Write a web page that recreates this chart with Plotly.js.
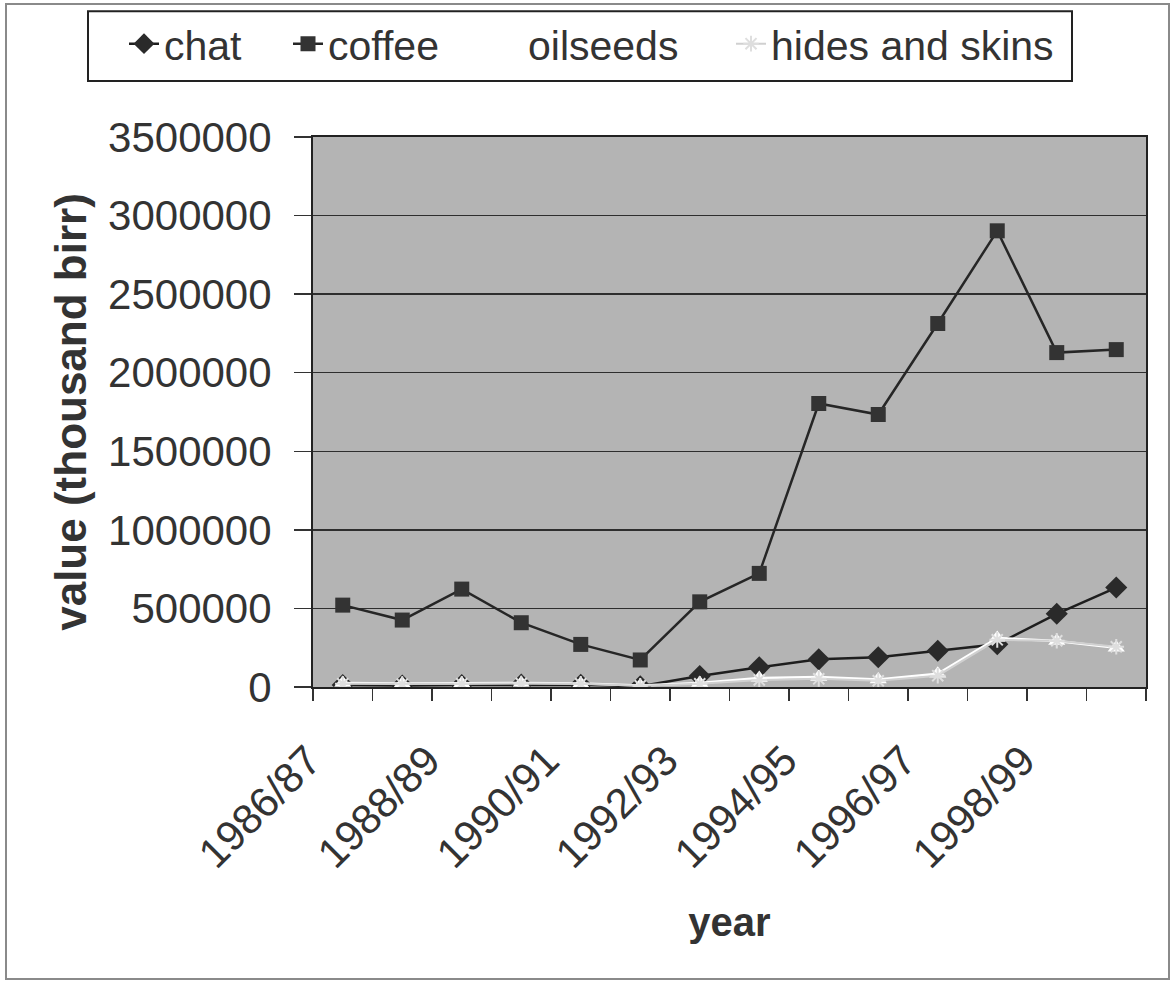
<!DOCTYPE html>
<html>
<head>
<meta charset="utf-8">
<script src="https://cdn.plot.ly/plotly-3.0.1.min.js"></script>
<style>
  html, body { margin: 0; padding: 0; background: #ffffff; }
  #wrap { position: relative; width: 1173px; height: 984px; }
  #chart { width: 1173px; height: 984px; }
  #frame { position: absolute; left: 5px; top: 3px; width: 1161px; height: 973px;
           border: 2px solid #8a8a8a; pointer-events: none; }
</style>
</head>
<body>
<div id="wrap">
  <div id="chart"></div>
  <div id="frame"></div>
</div>
<script>
// Categories (fiscal years)
const years = ["1986/87","1987/88","1988/89","1989/90","1990/91","1991/92","1992/93",
               "1993/94","1994/95","1995/96","1996/97","1997/98","1998/99","1999/00"];

// Series values (thousand birr)
const chat     = [13000, 10000, 12000, 15000, 14000, 5000, 70000, 125000, 176000, 189000, 231000, 272000, 466000, 633000];
const coffee   = [521000, 426000, 623000, 409000, 271000, 172000, 542000, 723000, 1804000, 1734000, 2313000, 2903000, 2128000, 2147000];
const oilseeds = [25000, 22000, 24000, 26000, 22000, 10000, 25000, 57000, 64000, 48000, 84000, 312000, 292000, 250000];
const hides    = [20000, 18000, 20000, 22000, 20000, 8000, 20000, 45000, 52000, 40000, 72000, 300000, 294000, 256000];

// Tick labels: every other year shown
const tickLabels = years.map((y, i) => (i % 2 === 0 ? y : ""));

const FONT = "Liberation Sans, Arial, Helvetica, sans-serif";
const TXT = "#333333";

const traces = [
  { x: years, y: chat, name: "chat", type: "scatter", mode: "lines+markers", legend: "legend",
    line: { color: "#1e1e1e", width: 2.5 },
    marker: { symbol: "diamond", size: 17, color: "#2a2a2a" } },
  { x: years, y: coffee, name: "coffee", type: "scatter", mode: "lines+markers", legend: "legend2",
    line: { color: "#262626", width: 2.5 },
    marker: { symbol: "square", size: 15, color: "#333333" } },
  { x: years, y: oilseeds, name: "oilseeds", type: "scatter", mode: "lines+markers", legend: "legend3",
    line: { color: "#ffffff", width: 2.5 },
    marker: { symbol: "triangle-up", size: 15, color: "#ffffff" } },
  { x: years, y: hides, name: "hides and skins", type: "scatter", mode: "lines+markers", legend: "legend4",
    line: { color: "#d0d0d0", width: 2 },
    marker: { symbol: "asterisk-open", size: 13, color: "#dedede", line: { color: "#dedede", width: 2 } } }
];

function leg(xpx) {
  return {
    orientation: "h",
    x: (xpx - 313) / 833, xanchor: "left",
    y: (687 - 44) / 551, yanchor: "middle",
    bgcolor: "rgba(0,0,0,0)", borderwidth: 0,
    font: { family: FONT, size: 41, color: TXT }
  };
}

const layout = {
  width: 1173, height: 984,
  margin: { l: 313, r: 27, t: 136, b: 297, pad: 0 },
  paper_bgcolor: "#ffffff",
  plot_bgcolor: "#b4b4b4",
  font: { family: FONT, color: TXT, size: 40 },
  showlegend: true,
  legend: leg(124),
  legend2: leg(288),
  legend3: leg(488),
  legend4: leg(731),
  shapes: [{
    type: "rect", xref: "paper", yref: "paper", layer: "above",
    x0: (88 - 313) / 833, x1: (1072 - 313) / 833,
    y0: (687 - 80) / 551, y1: (687 - 10) / 551,
    line: { color: "#222222", width: 2 }, fillcolor: "#ffffff"
  }],
  xaxis: {
    type: "category",
    categoryorder: "array", categoryarray: years,
    range: [-0.5, 13.5], autorange: false,
    tickmode: "array", tickvals: years, ticktext: tickLabels,
    tickson: "boundaries",
    ticks: "outside", ticklen: 12, tickwidth: 1.5, tickcolor: "#333333",
    tickangle: -45,
    ticklabelstandoff: 30,
    ticklabelshift: -34,
    tickfont: { family: FONT, size: 42, color: TXT },
    showgrid: false,
    showline: true, linecolor: "#222222", linewidth: 2, mirror: true,
    zeroline: false,
    title: { text: "<b>year</b>", font: { family: FONT, size: 40, color: TXT }, standoff: 32 }
  },
  yaxis: {
    range: [0, 3500000], autorange: false,
    tickmode: "linear", tick0: 0, dtick: 500000,
    tickformat: "d",
    ticks: "outside", ticklen: 17, tickwidth: 1.5, tickcolor: "#333333",
    ticklabelstandoff: 14,
    tickfont: { family: FONT, size: 42, color: TXT },
    showgrid: true, gridcolor: "#2e2e2e", gridwidth: 1.5,
    showline: true, linecolor: "#222222", linewidth: 2, mirror: true,
    zeroline: false,
    title: { text: "<b>value (thousand birr)</b>", font: { family: FONT, size: 44, color: TXT }, standoff: 8 }
  }
};

Plotly.newPlot("chart", traces, layout, { displayModeBar: false, staticPlot: true });
</script>
</body>
</html>
